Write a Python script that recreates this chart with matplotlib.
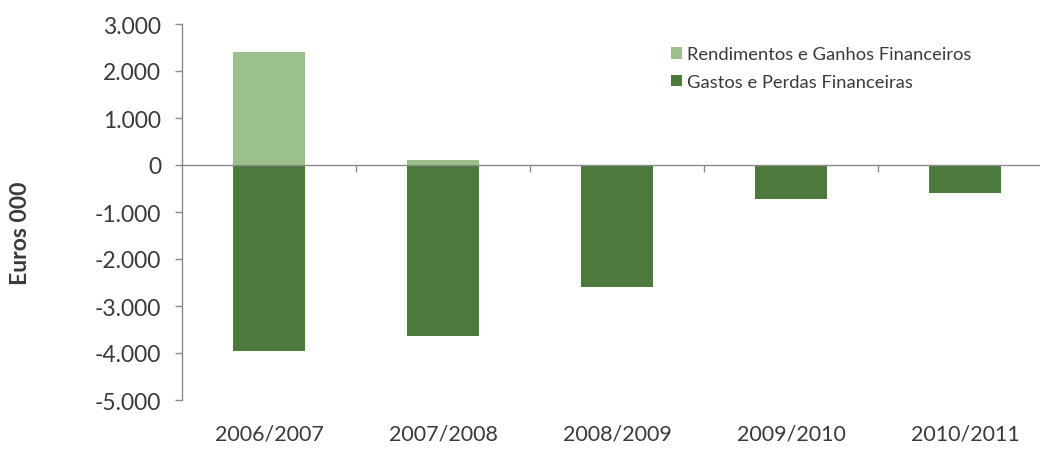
import matplotlib
matplotlib.use("Agg")
import matplotlib.pyplot as plt
import numpy as np

periods = ["2006/2007", "2007/2008", "2008/2009", "2009/2010", "2010/2011"]
rendimentos = [2400, 100, 0, 0, 0]          # Rendimentos e Ganhos Financeiros
gastos = [-3950, -3630, -2600, -720, -590]  # Gastos e Perdas Financeiras
yticks = [3000, 2000, 1000, 0, -1000, -2000, -3000, -4000, -5000]

light_green = "#9cc08a"
dark_green = "#4b7a3c"
text_color = "#3a3a3a"
axis_color = "#8a8a8a"

plt.rcParams["font.family"] = ["Lato", "DejaVu Sans"]

fig = plt.figure(figsize=(10.4, 4.56), dpi=100)
fig.patch.set_facecolor("white")
ax = fig.add_axes([182 / 1040, 55 / 456, 870 / 1040, 376 / 456])

x = np.arange(len(periods))
ax.bar(x, rendimentos, width=0.41, color=light_green, zorder=2,
       label="Rendimentos e Ganhos Financeiros")
ax.bar(x, gastos, width=0.41, color=dark_green, zorder=2,
       label="Gastos e Perdas Financeiras")

ax.set_xlim(-0.5, len(periods) - 0.5)
ax.set_ylim(min(yticks), max(yticks))

# zero line with small category separator ticks
ax.axhline(0, color=axis_color, lw=1.0, zorder=3)
sep = np.arange(len(periods) - 1) + 0.5
ax.plot(sep, np.zeros_like(sep), linestyle="none", marker=3, markersize=5,
        color=axis_color, markeredgewidth=1.0, zorder=3)

for side in ["top", "right", "bottom"]:
    ax.spines[side].set_visible(False)
ax.spines["left"].set_color(axis_color)
ax.spines["left"].set_linewidth(1.0)

ax.set_yticks(yticks)
ax.set_yticklabels([f"{v:,}".replace(",", ".") for v in yticks])
ax.tick_params(axis="y", direction="out", length=5, width=1.0, color=axis_color,
               labelsize=16.5, labelcolor=text_color, pad=10)

ax.set_xticks(x)
ax.set_xticklabels(periods)
ax.tick_params(axis="x", length=0, labelsize=15.5, labelcolor=text_color, pad=17)

fig.text(21 / 1040, (456 - 233) / 456, "Euros 000", rotation=90,
         ha="center", va="center", fontsize=16.5, fontweight="bold", color=text_color)

leg = ax.legend(loc="upper left", bbox_to_anchor=(662 / 1040, (456 - 38) / 456),
                bbox_transform=fig.transFigure, frameon=False, fontsize=13.2,
                handlelength=0.6, handleheight=0.6, handletextpad=0.25,
                labelspacing=0.65, borderpad=0, labelcolor=text_color)

fig.savefig("out.png", dpi=100, facecolor="white")
